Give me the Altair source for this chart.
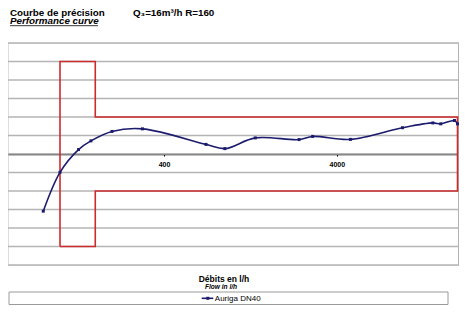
import altair as alt
import pandas as pd

# measured curve
flow = [80, 100, 128, 151, 200, 300, 700, 900, 1350, 2420, 2900, 4800, 9600, 14400, 16000, 19200, 20000]
error = [-3.09, -0.99, 0.24, 0.71, 1.22, 1.36, 0.52, 0.29, 0.87, 0.78, 0.95, 0.79, 1.42, 1.68, 1.63, 1.81, 1.63]

# maximum permissible error envelope
env_flow = [100, 100, 160, 160, 20000, 20000, 160, 160, 100]
env_err = [-5, 5, 5, 2, 2, -2, -2, -5, -5]

x_ticks = [400, 4000]
y_grid = list(range(-6, 7))
series = "Auriga DN40"

W, H = 451, 222
NAVY = "#1c1c6e"
RED = "#cc2b2b"
GRID = "#b4b4b4"
FONT = "Liberation Sans"

df = pd.DataFrame({"flow": flow, "error": error})
env = pd.DataFrame({"flow": env_flow, "error": env_err, "order": list(range(len(env_flow)))})
grid = pd.DataFrame({"g": y_grid})

xscale = alt.Scale(type="log", domain=[50, 20400], nice=False)
yscale = alt.Scale(domain=[-6, 6], nice=False)

xaxis = alt.Axis(values=x_ticks, format="d", title=None, grid=False, offset=-H / 2,
                 domainColor="black", domainWidth=1.6, tickColor="black", tickSize=2,
                 labelFont=FONT, labelFontWeight="bold", labelFontSize=7, labelPadding=4,
                 labelColor="black")

gridlines = alt.Chart(grid).mark_rule(color=GRID, strokeWidth=1.5).encode(
    y=alt.Y("g:Q", scale=yscale, axis=None))
border = alt.Chart(grid).mark_rule(color=GRID, strokeWidth=1.5).encode(
    x=alt.value(W), y=alt.value(0), y2=alt.value(H))

envelope = alt.Chart(env).mark_line(color=RED, strokeWidth=1.6).encode(
    x=alt.X("flow:Q", scale=xscale, axis=xaxis),
    y=alt.Y("error:Q", scale=yscale, axis=None),
    order="order:Q",
)

curve = alt.Chart(df).mark_line(color=NAVY, strokeWidth=1.6, interpolate="catmull-rom").encode(
    x=alt.X("flow:Q", scale=xscale),
    y=alt.Y("error:Q", scale=yscale),
)
pts = alt.Chart(df).mark_point(shape="square", filled=True, color=NAVY, size=9, opacity=1).encode(
    x=alt.X("flow:Q", scale=xscale),
    y=alt.Y("error:Q", scale=yscale),
)

one = pd.DataFrame({"a": [0]})


def txt(s, x, y, size, weight="normal", style="normal", align="left", baseline="alphabetic"):
    return alt.Chart(one).mark_text(text=s, font=FONT, fontSize=size, fontWeight=weight,
                                    fontStyle=style, align=align, baseline=baseline,
                                    color="black").encode(x=alt.value(x), y=alt.value(y))


t1 = txt("Courbe de précision", 2, -27.3, 9.8, "bold")
t2 = txt("Q₃=16m³/h R=160", 125, -27.3, 9.8, "bold")
t3 = txt("Performance curve", 2, -18.9, 9.8, "bold", "italic")
ul = alt.Chart(one).mark_rule(color="black", strokeWidth=0.8).encode(
    x=alt.value(2), x2=alt.value(90), y=alt.value(-17.3))
xt1 = txt("Débits en l/h", 216, 239.3, 8.5, "bold", align="center")
xt2 = txt("Flow in l/h", 213, 246.2, 6.6, "bold", "italic", align="center")

box = alt.Chart(one).mark_rect(fill="white", stroke="#9a9a9a", strokeWidth=1).encode(
    x=alt.value(1), x2=alt.value(440), y=alt.value(249), y2=alt.value(261.5))
leg_line = alt.Chart(one).mark_rule(color=NAVY, strokeWidth=1.6).encode(
    x=alt.value(193.7), x2=alt.value(205.3), y=alt.value(255.3))
leg_pt = alt.Chart(one).mark_point(shape="square", filled=True, color=NAVY, size=9, opacity=1).encode(
    x=alt.value(199.8), y=alt.value(255.3))
leg_txt = txt(series, 206.8, 255.5, 8, align="left", baseline="middle")

chart = alt.layer(gridlines, border, envelope, curve, pts, t1, t2, t3, ul, xt1, xt2,
                  box, leg_line, leg_pt, leg_txt).properties(
    width=W, height=H,
    autosize=alt.AutoSizeParams(type="none"),
    padding={"left": 0, "top": 35, "right": 0, "bottom": 40},
).configure_view(stroke=None).configure(background="white")

chart.save("out.html", embed_options={"renderer": "svg", "actions": False})
